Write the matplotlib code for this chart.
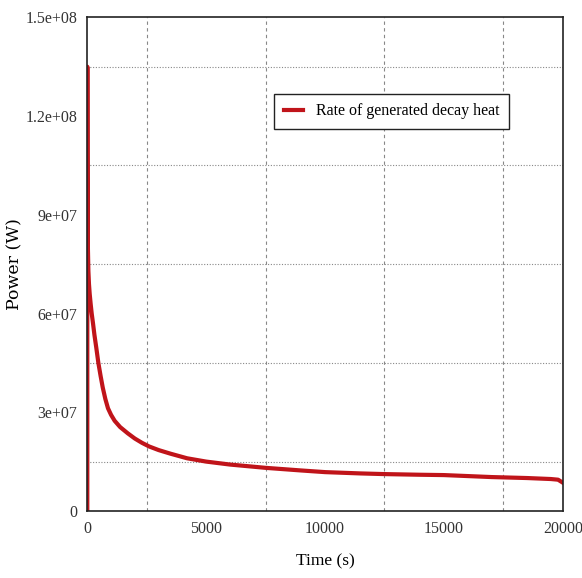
import matplotlib.pyplot as plt
import numpy as np
import matplotlib as mpl

params = {'font.family': ['Liberation Serif', 'DejaVu Serif'],
          'xtick.labelsize': 11.5,
          'ytick.labelsize': 11.5,
          'axes.labelsize': 12.5}
mpl.rcParams.update(params)

# decay heat
time_s = [0, 1, 5, 12, 25, 45, 70, 100, 140, 185, 240, 300, 380, 465, 560, 650, 760,
          870, 1000, 1150, 1380, 1700, 2000, 2300, 2600, 3000, 3500, 4200, 5000, 6000,
          7500, 9000, 10000, 11500, 12500, 14000, 15000, 16000, 17000, 18500, 19500,
          19800, 20000]
power_w = [0, 1.35e8, 1.1e8, 9.2e7, 8.0e7, 7.3e7, 6.9e7, 6.6e7, 6.3e7, 6.0e7, 5.7e7,
           5.35e7, 4.95e7, 4.5e7, 4.1e7, 3.75e7, 3.4e7, 3.12e7, 2.92e7, 2.74e7, 2.55e7,
           2.36e7, 2.2e7, 2.07e7, 1.96e7, 1.85e7, 1.74e7, 1.6e7, 1.5e7, 1.41e7,
           1.31e7, 1.23e7, 1.18e7, 1.14e7, 1.12e7, 1.1e7, 1.09e7, 1.06e7, 1.03e7,
           1.0e7, 0.97e7, 0.95e7, 0.86e7]

fig, ax = plt.subplots(figsize=(5.82, 5.78), dpi=100)
fig.subplots_adjust(left=0.15, right=0.967, top=0.970, bottom=0.116)

ax.plot(time_s, power_w, color='#c0141a', lw=3, label='Rate of generated decay heat')

ax.set_xlim(0, 20000)
ax.set_ylim(0, 1.5e8)
ax.set_xticks([0, 5000, 10000, 15000, 20000])
ax.set_yticks([0, 3e7, 6e7, 9e7, 1.2e8, 1.5e8])
ax.set_yticklabels(['0', '3e+07', '6e+07', '9e+07', '1.2e+08', '1.5e+08'])
ax.set_xticks(np.arange(0, 20001, 2500), minor=True)
ax.set_yticks(np.arange(0, 1.5e8 + 1, 1.5e7), minor=True)
ax.tick_params(which='both', length=0, pad=7, colors='#333333')

ax.grid(which='minor', axis='x', color='#888888', linestyle=(0, (3, 3)), lw=0.8)
ax.grid(which='minor', axis='y', color='#888888', linestyle=(0, (1, 1.5)), lw=0.8)
for s in ax.spines.values():
    s.set_color('#222222')
    s.set_linewidth(1.2)

ax.set_xlabel('Time (s)')
ax.xaxis.set_label_coords(0.5, -0.085)
ax.set_ylabel('Power (W)', family='DejaVu Serif', fontsize=12.5)
ax.yaxis.set_label_coords(-0.135, 0.5)

leg = ax.legend(loc='upper left', bbox_to_anchor=(0.393, 0.845), fontsize=11.5,
                fancybox=False, framealpha=1, edgecolor='#222222',
                handlelength=1.2, handletextpad=0.8, borderpad=0.6,
                borderaxespad=0)
leg.get_frame().set_linewidth(1.0)

plt.savefig('out.png', dpi=100)
